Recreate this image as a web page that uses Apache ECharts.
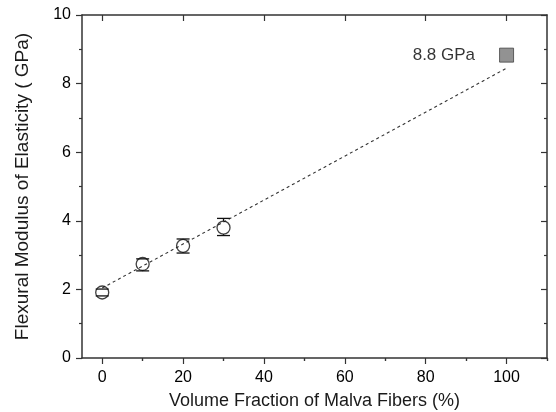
<!DOCTYPE html>
<html>
<head>
<meta charset="utf-8">
<script src="https://cdn.jsdelivr.net/npm/echarts@6/dist/echarts.min.js"></script>
<style>
  html, body { margin: 0; padding: 0; background: #fff; }
  #chart { width: 556px; height: 412px; }
</style>
</head>
<body>
<div id="chart"></div>
<script>
  // measured points (circles with error bars)
  const fiberPct = [0, 10, 20, 30];
  const modulus = [1.91, 2.74, 3.27, 3.8];
  const errLow = [1.81, 2.54, 3.06, 3.57];
  const errHigh = [2.01, 2.89, 3.47, 4.07];

  // extrapolated value at 100 %
  const predPct = [100];
  const predModulus = [8.83];

  // dashed trend line
  const fitPct = [0, 100];
  const fitModulus = [2.04, 8.45];

  const xMajor = [0, 20, 40, 60, 80, 100];
  const xMinor = [10, 30, 50, 70, 90, 110];

  const font = 'Liberation Sans, Arial, sans-serif';
  const axisColor = '#333';
  const textColor = '#000';

  const chart = echarts.init(document.getElementById('chart'));

  const xBase = {
    type: 'value',
    min: -5,
    max: 110,
    splitLine: { show: false }
  };

  const option = {
    animation: false,
    grid: { left: 82, right: 9, top: 15, bottom: 54, outerBoundsMode: 'none', containLabel: false },
    xAxis: [
      Object.assign({}, xBase, {
        position: 'bottom',
        name: 'Volume Fraction of Malva Fibers (%)',
        nameLocation: 'middle',
        nameGap: 34,
        nameTextStyle: { fontFamily: font, fontSize: 18, color: '#1a1a1a' },
        axisLine: { onZero: false, lineStyle: { color: axisColor, width: 1.5 } },
        axisTick: { customValues: xMajor, length: 6, lineStyle: { color: axisColor, width: 1.2 } },
        axisLabel: { customValues: xMajor, margin: 12, fontFamily: font, fontSize: 16, color: textColor }
      }),
      Object.assign({}, xBase, {
        position: 'bottom',
        axisLine: { show: false },
        axisTick: { customValues: xMinor, length: 3, lineStyle: { color: axisColor, width: 1.2 } },
        axisLabel: { show: false }
      }),
      Object.assign({}, xBase, {
        position: 'top',
        axisLine: { onZero: false, lineStyle: { color: axisColor, width: 1.5 } },
        axisTick: { customValues: xMajor, inside: true, length: 6, lineStyle: { color: axisColor, width: 1.2 } },
        axisLabel: { show: false }
      }),
      Object.assign({}, xBase, {
        position: 'top',
        axisLine: { show: false },
        axisTick: { customValues: xMinor, inside: true, length: 3, lineStyle: { color: axisColor, width: 1.2 } },
        axisLabel: { show: false }
      })
    ],
    yAxis: [
      {
        type: 'value',
        position: 'left',
        min: 0,
        max: 10,
        interval: 2,
        name: 'Flexural Modulus of Elasticity ( GPa)',
        nameLocation: 'middle',
        nameGap: 50,
        nameTextStyle: { fontFamily: font, fontSize: 19, color: '#1a1a1a' },
        axisLine: { show: true, onZero: false, lineStyle: { color: axisColor, width: 1.5 } },
        axisTick: { show: true, length: 6, lineStyle: { color: axisColor, width: 1.2 } },
        minorTick: { show: true, splitNumber: 2, length: 3, lineStyle: { color: axisColor, width: 1.2 } },
        splitLine: { show: false },
        axisLabel: { margin: 11, fontFamily: font, fontSize: 16, color: textColor }
      },
      {
        type: 'value',
        position: 'right',
        min: 0,
        max: 10,
        interval: 2,
        axisLine: { show: true, onZero: false, lineStyle: { color: axisColor, width: 1.5 } },
        axisTick: { show: true, inside: true, length: 6, lineStyle: { color: axisColor, width: 1.2 } },
        minorTick: { show: true, splitNumber: 2, length: 3, lineStyle: { color: axisColor, width: 1.2 } },
        splitLine: { show: false },
        axisLabel: { show: false }
      }
    ],
    series: [
      {
        type: 'line',
        data: fitPct.map((x, i) => [x, fitModulus[i]]),
        symbol: 'none',
        silent: true,
        lineStyle: { color: '#333', width: 1.1, type: [3, 3] },
        z: 1
      },
      {
        type: 'custom',
        data: fiberPct.map((x, i) => [x, errLow[i], errHigh[i], modulus[i]]),
        renderItem: function (params, api) {
          const x = api.value(0);
          const lo = api.coord([x, api.value(1)]);
          const hi = api.coord([x, api.value(2)]);
          const mid = api.coord([x, api.value(3)]);
          const r = 6.5, cap = 6.5;
          const style = { stroke: '#111', lineWidth: 1.3, fill: null };
          const kids = [
            { type: 'line', shape: { x1: hi[0] - cap, y1: hi[1], x2: hi[0] + cap, y2: hi[1] }, style: style },
            { type: 'line', shape: { x1: lo[0] - cap, y1: lo[1], x2: lo[0] + cap, y2: lo[1] }, style: style }
          ];
          if (mid[1] - hi[1] > r) {
            kids.push({ type: 'line', shape: { x1: hi[0], y1: hi[1], x2: hi[0], y2: mid[1] - r }, style: style });
          }
          if (lo[1] - mid[1] > r) {
            kids.push({ type: 'line', shape: { x1: lo[0], y1: mid[1] + r, x2: lo[0], y2: lo[1] }, style: style });
          }
          return { type: 'group', children: kids };
        },
        z: 3
      },
      {
        type: 'scatter',
        data: fiberPct.map((x, i) => [x, modulus[i]]),
        symbol: 'circle',
        symbolSize: 13,
        itemStyle: { color: 'rgba(255,255,255,0)', borderColor: '#111', borderWidth: 1.3 },
        z: 2
      },
      {
        type: 'scatter',
        data: predPct.map((x, i) => [x, predModulus[i]]),
        symbol: 'rect',
        symbolSize: 14,
        itemStyle: { color: '#777', borderColor: '#444', borderWidth: 1 },
        label: {
          show: true,
          position: 'left',
          distance: 24,
          formatter: function (p) { return p.value[1].toFixed(1) + ' GPa'; },
          fontFamily: font,
          fontSize: 17,
          color: textColor
        },
        z: 4
      }
    ]
  };

  chart.setOption(option);
</script>
</body>
</html>
